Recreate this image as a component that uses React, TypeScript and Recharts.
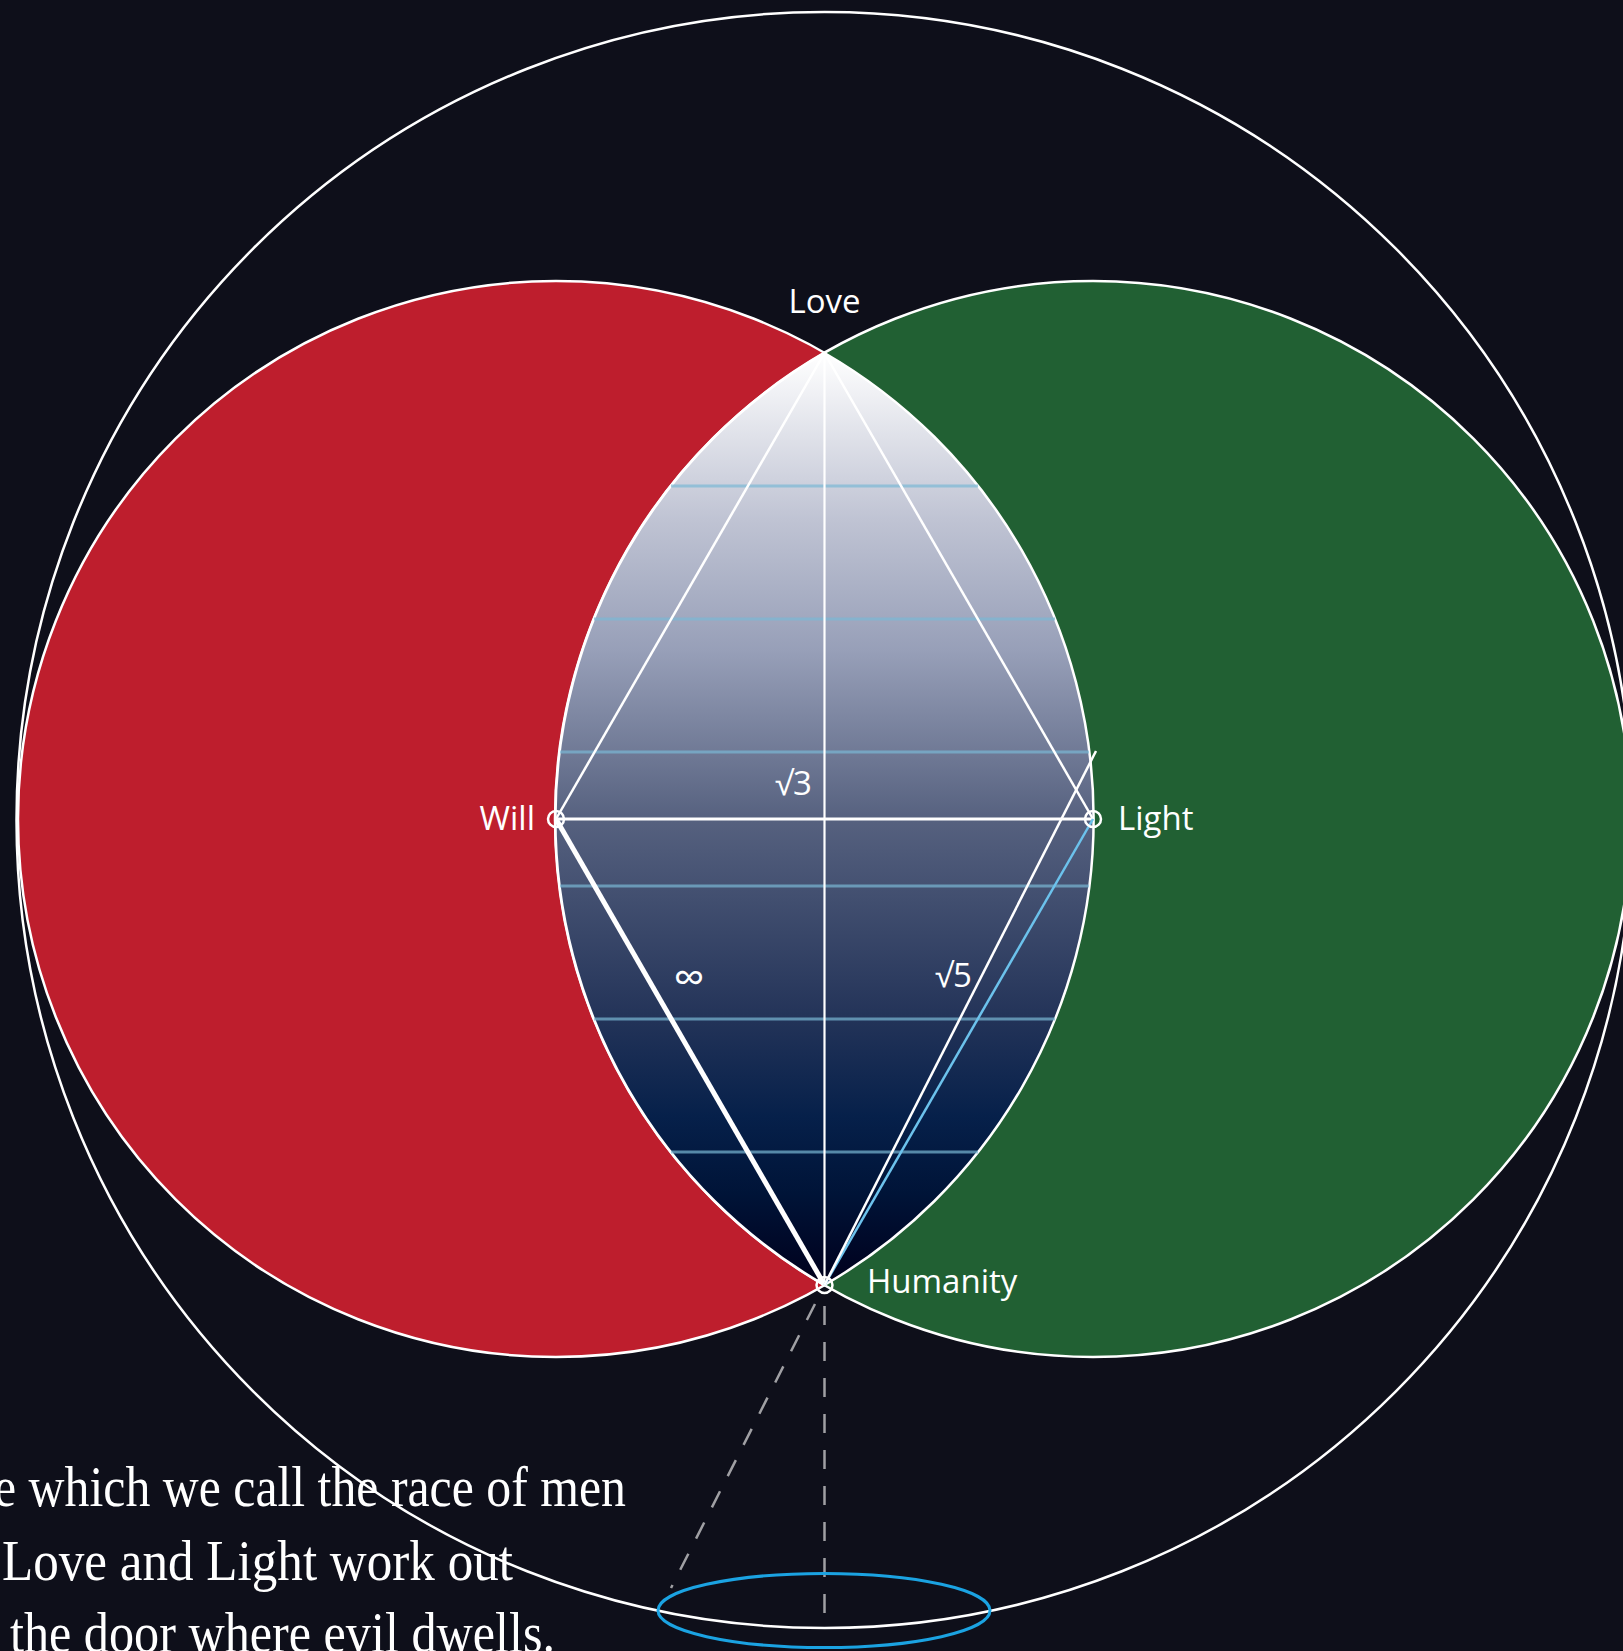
import React from 'react';
import { ScatterChart, Scatter, XAxis, YAxis } from 'recharts';

const W = 1623;
const H = 1651;
const BG = '#0e0f1a';
const SANS = '"Open Sans", "Noto Sans", sans-serif';
const SERIF = '"Liberation Serif", "DejaVu Serif", serif';

// key points of the figure (data units = pixels, y grows downward)
const love = { x: 824.5, y: 353 };
const will = { x: 556, y: 819 };
const light = { x: 1093, y: 819 };
const humanity = { x: 824.5, y: 1285 };
const lightAbove = { x: 1096, y: 751 };

const circles = [
  { name: 'Whole', x: 824.5, y: 820, r: 808, fill: 'none' },
  { name: 'Will', x: 556, y: 819, r: 538, fill: '#be1e2d' },
  { name: 'Light', x: 1093, y: 819, r: 538, fill: '#216033' },
];

const lens = [{ x: 824.5, y: 353, r: 538, h: 932 }];

const gradientStops = [
  { offset: 0, color: '#ffffff' },
  { offset: 0.18, color: '#bfc3d3' },
  { offset: 0.32, color: '#979fb8' },
  { offset: 0.5, color: '#56617f' },
  { offset: 0.71, color: '#243459' },
  { offset: 0.82, color: '#06204a' },
  { offset: 0.9, color: '#001438' },
  { offset: 1, color: '#00001c' },
];

const rungY = [486, 619, 752, 886, 1019, 1152];
const rungX1 = [671, 594, 560, 560, 594, 671];
const rungX2 = [978, 1055, 1089, 1089, 1055, 978];

const segments = [
  { id: 'love-will', pts: [love, will], stroke: '#ffffff', width: 2.5, dash: undefined },
  { id: 'love-light', pts: [love, light], stroke: '#ffffff', width: 2.5, dash: undefined },
  { id: 'love-humanity', pts: [love, humanity], stroke: '#ffffff', width: 2.2, dash: undefined },
  { id: 'will-light', pts: [will, light], stroke: '#ffffff', width: 3, dash: undefined },
  { id: 'will-humanity', pts: [will, humanity], stroke: '#ffffff', width: 5, dash: undefined },
  { id: 'humanity-light', pts: [humanity, light], stroke: '#6cc2ec', width: 2.5, dash: undefined },
  { id: 'humanity-above', pts: [humanity, lightAbove], stroke: '#ffffff', width: 2.5, dash: undefined },
  { id: 'drop', pts: [{ x: 824.5, y: 1306 }, { x: 824.5, y: 1628 }], stroke: '#a0a0a4', width: 2.5, dash: '19 17' },
  { id: 'slant', pts: [{ x: 815, y: 1304 }, { x: 671, y: 1588 }], stroke: '#a0a0a4', width: 2.5, dash: '18 17' },
];

const markers = [will, light, humanity];

const ellipse = [{ x: 824, y: 1610.5, rx: 166, ry: 37 }];

const labels = [
  { x: 824.5, y: 313, text: 'Love', anchor: 'middle', size: 33 },
  { x: 535, y: 830, text: 'Will', anchor: 'end', size: 33 },
  { x: 1118, y: 830, text: 'Light', anchor: 'start', size: 33 },
  { x: 867, y: 1293, text: 'Humanity', anchor: 'start', size: 33 },
  { x: 775, y: 795, text: '√3', anchor: 'start', size: 33 },
  { x: 935, y: 987, text: '√5', anchor: 'start', size: 33 },
  { x: 689, y: 993, text: '∞', anchor: 'middle', size: 44 },
];

const verse = [
  { x: -6, y: 1506, text: 'e which we call the race of men', len: 632 },
  { x: 2, y: 1580, text: 'Love and Light work out', len: 511 },
  { x: 10, y: 1652, text: 'the door where evil dwells.', len: 545 },
];

const Blank = () => <g />;

export default function App() {
  return (
    <div style={{ width: W, height: H, background: BG }}>
      <style>{`body{margin:0;background:${BG};}`}</style>
      <ScatterChart width={W} height={H} margin={{ top: 0, right: 0, bottom: 0, left: 0 }} style={{ background: BG }}>
        <XAxis type="number" dataKey="x" domain={[0, W]} allowDataOverflow hide />
        <YAxis type="number" dataKey="y" domain={[0, H]} allowDataOverflow reversed hide />

        <Scatter
          data={circles}
          isAnimationActive={false}
          shape={(p: any) => (
            <circle cx={p.cx} cy={p.cy} r={p.payload.r} fill={p.payload.fill} stroke="#ffffff" strokeWidth={2.5} />
          )}
        />

        <Scatter
          data={lens}
          isAnimationActive={false}
          shape={(p: any) => {
            const { r, h } = p.payload;
            const d = `M${p.cx},${p.cy} A${r},${r} 0 0 0 ${p.cx},${p.cy + h} A${r},${r} 0 0 0 ${p.cx},${p.cy} Z`;
            return (
              <g>
                <defs>
                  <linearGradient id="lensGrad" x1="0" y1="0" x2="0" y2="1">
                    {gradientStops.map((s) => (
                      <stop key={s.offset} offset={s.offset} stopColor={s.color} />
                    ))}
                  </linearGradient>
                </defs>
                <path d={d} fill="url(#lensGrad)" stroke="#ffffff" strokeWidth={2.5} />
              </g>
            );
          }}
        />

        {rungY.map((y, i) => (
          <Scatter
            key={'rung' + i}
            data={[{ x: rungX1[i], y }, { x: rungX2[i], y }]}
            isAnimationActive={false}
            line={{ stroke: '#7ab8d4', strokeWidth: 3, strokeOpacity: 0.7 }}
            shape={Blank}
          />
        ))}

        {segments.map((s) => (
          <Scatter
            key={s.id}
            data={s.pts}
            isAnimationActive={false}
            line={{ stroke: s.stroke, strokeWidth: s.width, strokeDasharray: s.dash, strokeLinecap: 'butt' }}
            shape={Blank}
          />
        ))}

        <Scatter
          data={markers}
          isAnimationActive={false}
          shape={(p: any) => <circle cx={p.cx} cy={p.cy} r={8} fill="none" stroke="#ffffff" strokeWidth={2.5} />}
        />

        <Scatter
          data={ellipse}
          isAnimationActive={false}
          shape={(p: any) => (
            <ellipse cx={p.cx} cy={p.cy} rx={p.payload.rx} ry={p.payload.ry} fill="none" stroke="#1ba3e2" strokeWidth={3} />
          )}
        />

        <Scatter
          data={labels}
          isAnimationActive={false}
          shape={(p: any) => (
            <text x={p.cx} y={p.cy} textAnchor={p.payload.anchor} fontFamily={SANS} fontSize={p.payload.size} fill="#ffffff">
              {p.payload.text}
            </text>
          )}
        />

        <Scatter
          data={verse}
          isAnimationActive={false}
          shape={(p: any) => (
            <text
              x={p.cx}
              y={p.cy}
              fontFamily={SERIF}
              fontSize={58}
              fill="#ffffff"
              textLength={p.payload.len}
              lengthAdjust="spacingAndGlyphs"
            >
              {p.payload.text}
            </text>
          )}
        />
      </ScatterChart>
    </div>
  );
}
